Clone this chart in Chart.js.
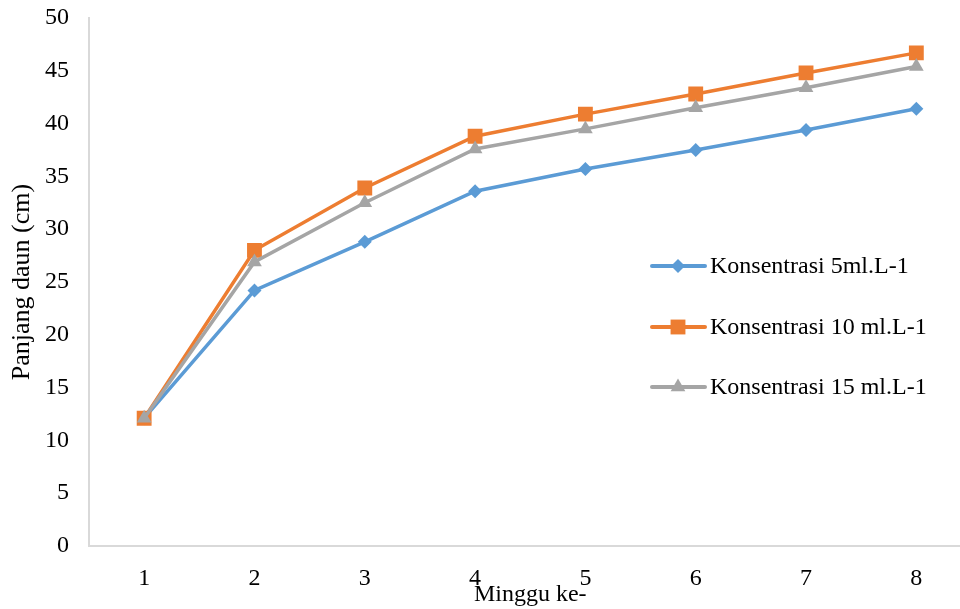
<!DOCTYPE html>
<html>
<head>
<meta charset="utf-8">
<script src="https://cdn.jsdelivr.net/npm/chart.js@4/dist/chart.umd.min.js"></script>
<style>
  html, body { margin: 0; padding: 0; background: #fff; overflow: hidden; }
  #wrap { width: 960px; height: 609px; overflow: hidden; }
</style>
</head>
<body>
<div id="wrap"><canvas id="myChart" width="982" height="609"></canvas></div>
<script>
var weeks = ["1", "2", "3", "4", "5", "6", "7", "8"];
var seriesNames = ["Konsentrasi 5ml.L-1", "Konsentrasi 10 ml.L-1", "Konsentrasi 15 ml.L-1"];
var conc5 = [12.1, 24.2, 28.8, 33.6, 35.7, 37.5, 39.4, 41.4];
var conc10 = [12.1, 28.0, 33.9, 38.8, 40.9, 42.8, 44.8, 46.7];
var conc15 = [12.1, 26.9, 32.5, 37.6, 39.5, 41.5, 43.4, 45.4];
var yTicks = [0, 5, 10, 15, 20, 25, 30, 35, 40, 45, 50];

var serif = "'Liberation Serif', 'Times New Roman', serif";

// legend drawn by hand at the right middle of the plot
var sideLegend = {
  id: 'sideLegend',
  afterDraw: function(chart) {
    var ctx = chart.ctx;
    var rows = [266, 327, 387];
    ctx.save();
    chart.data.datasets.forEach(function(ds, i) {
      var y = rows[i];
      ctx.strokeStyle = ds.borderColor;
      ctx.lineWidth = 4;
      ctx.lineCap = 'round';
      ctx.beginPath();
      ctx.moveTo(652, y);
      ctx.lineTo(705, y);
      ctx.stroke();
      ctx.fillStyle = ds.borderColor;
      Chart.helpers.drawPoint(ctx, {
        pointStyle: ds.pointStyle,
        radius: ds.pointRadius,
        borderWidth: 0
      }, 678, y);
      ctx.fillStyle = '#000';
      ctx.font = '24px ' + serif;
      ctx.textBaseline = 'middle';
      ctx.fillText(seriesNames[i], 710, y + 1);
    });
    ctx.restore();
  }
};

var ctx = document.getElementById("myChart").getContext('2d');
var lineChart = new Chart(ctx, {
  type: 'line',
  data: {
    labels: weeks,
    datasets: [{
      label: seriesNames[0],
      data: conc5,
      borderColor: '#5b9bd5',
      backgroundColor: '#5b9bd5',
      pointStyle: 'rectRot',
      pointRadius: 7,
      order: 2
    }, {
      label: seriesNames[1],
      data: conc10,
      borderColor: '#ed7d31',
      backgroundColor: '#ed7d31',
      pointStyle: 'rect',
      pointRadius: 10.5,
      order: 1
    }, {
      label: seriesNames[2],
      data: conc15,
      borderColor: '#a5a5a5',
      backgroundColor: '#a5a5a5',
      pointStyle: 'triangle',
      pointRadius: 8.5,
      order: 0
    }]
  },
  options: {
    responsive: false,
    animation: false,
    layout: { padding: { top: 18, left: 0, right: 0, bottom: 0 } },
    elements: {
      line: { borderWidth: 3.5, tension: 0 },
      point: { borderWidth: 0, hoverRadius: 8 }
    },
    plugins: {
      legend: { display: false },
      tooltip: { enabled: false }
    },
    scales: {
      x: {
        offset: true,
        grid: { display: false, drawTicks: false },
        border: { display: true, color: '#d9d9d9', width: 2 },
        ticks: { color: '#000', font: { family: serif, size: 24 }, padding: 18, maxRotation: 0 },
        title: {
          display: true,
          text: 'Minggu ke-',
          color: '#000',
          font: { family: serif, size: 24 },
          padding: { top: 0, bottom: 0 }
        },
        afterFit: function(scale) { scale.height = 63; }
      },
      y: {
        min: 0,
        max: 50,
        afterBuildTicks: function(scale) {
          scale.ticks = yTicks.map(function(v) { return { value: v }; });
        },
        grid: { display: false, drawTicks: false },
        border: { display: true, color: '#d9d9d9', width: 2 },
        ticks: { color: '#000', font: { family: serif, size: 24 }, padding: 20 },
        title: {
          display: true,
          text: 'Panjang daun (cm)',
          color: '#000',
          font: { family: serif, size: 26 },
          padding: { top: 7, bottom: 0 }
        },
        afterFit: function(scale) {
          scale.width = 89;
          scale.paddingTop = 0;
          scale.paddingBottom = 0;
        }
      }
    }
  },
  plugins: [sideLegend]
});
</script>
</body>
</html>
